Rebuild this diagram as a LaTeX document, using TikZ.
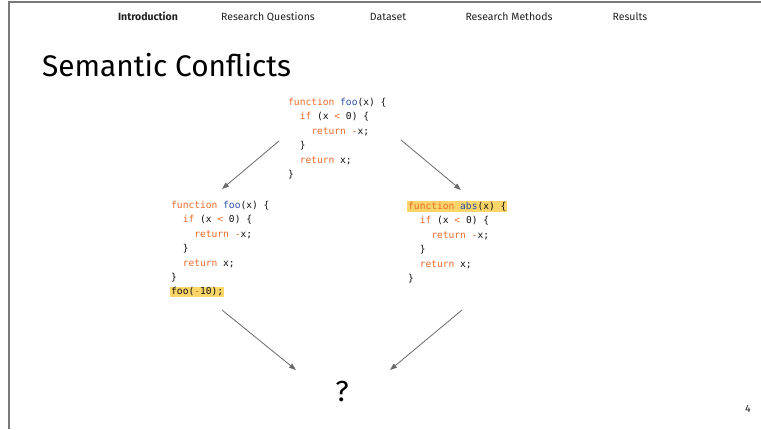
\documentclass[tikz,border=0pt]{standalone}
\usepackage{fontspec}
\setmainfont{Fira Sans}
\newfontfamily\codefont{DejaVu Sans Mono}
\usetikzlibrary{arrows.meta}
\definecolor{kwc}{HTML}{EA6A28}
\definecolor{fnc}{HTML}{2F4FA8}
\definecolor{hlc}{HTML}{FAD56A}
\definecolor{framec}{HTML}{7A7A7A}
\definecolor{arrowc}{HTML}{6A6A6A}
\definecolor{navc}{HTML}{222222}
\definecolor{codec}{HTML}{111111}
\newcommand{\kw}[1]{\textcolor{kwc}{#1}}
\newcommand{\fn}[1]{\textcolor{fnc}{#1}}
\newcommand{\hl}[1]{\hspace*{-1pt}{\fboxsep=1pt\colorbox{hlc}{#1}}}
\tikzset{
  codeblock/.style={anchor=north west, inner sep=0pt, align=left, text=codec,
    font=\codefont\fontsize{9.6}{14.4}\selectfont},
  navitem/.style={anchor=base, inner sep=0pt, text=navc, font=\fontsize{10.5}{12}\selectfont},
  flowarrow/.style={draw=arrowc, line width=0.8pt, -{Triangle[length=7pt,width=5pt]}},
  frameline/.style={draw=framec, line width=2pt}
}
\begin{document}
\begin{tikzpicture}[x=1pt,y=-1pt]
\useasboundingbox (0,0) rectangle (761,429);
\fill[white] (0,0) rectangle (761,429);
\coordinate (fb) at (9,429);
\coordinate (fc) at (9,2);
\coordinate (fr) at (761,2);
\draw[frameline] (fb) -- (fc) -- (fr);
% navigation
\node[navitem, font=\bfseries\fontsize{10.5}{12}\selectfont] (nav1) at (148,20) {Introduction};
\node[navitem] (nav2) at (268,20) {Research Questions};
\node[navitem] (nav3) at (388,20) {Dataset};
\node[navitem] (nav4) at (509,20) {Research Methods};
\node[navitem] (nav5) at (630,20) {Results};
% title
\node[anchor=base west, inner sep=0pt, font=\fontsize{29.8}{34}\selectfont] (title) at (42,76) {Semantic Conflicts};
% code blocks
\node[codeblock] (top) at (288,98) {%
\kw{function} \fn{foo}(x) \{\\
\ \ \kw{if} (x \kw{<} 0) \{\\
\ \ \ \ \kw{return} \kw{-}x;\\
\ \ \}\\
\ \ \kw{return} x;\\
\}};
\node[codeblock] (left) at (171,201) {%
\kw{function} \fn{foo}(x) \{\\
\ \ \kw{if} (x \kw{<} 0) \{\\
\ \ \ \ \kw{return} \kw{-}x;\\
\ \ \}\\
\ \ \kw{return} x;\\
\}\\
\hl{foo(\kw{-}10);}};
\node[codeblock] (right) at (408,201) {%
\hl{\kw{function} \fn{abs}(x) \{}\\
\ \ \kw{if} (x \kw{<} 0) \{\\
\ \ \ \ \kw{return} \kw{-}x;\\
\ \ \}\\
\ \ \kw{return} x;\\
\}};
% question mark
\node[anchor=base, inner sep=0pt, font=\fontsize{29}{32}\selectfont] (q) at (342,401) {?};
% page number
\node[anchor=base, inner sep=0pt, text=navc, font=\fontsize{10.5}{12}\selectfont] (page) at (748,412) {4};
% arrows
\coordinate (a1s) at (279,141); \coordinate (a1e) at (222,189);
\coordinate (a2s) at (401,140); \coordinate (a2e) at (461,190);
\coordinate (a3s) at (222,310); \coordinate (a3e) at (296,370);
\coordinate (a4s) at (462,310); \coordinate (a4e) at (390,370);
\draw[flowarrow] (a1s) -- (a1e);
\draw[flowarrow] (a2s) -- (a2e);
\draw[flowarrow] (a3s) -- (a3e);
\draw[flowarrow] (a4s) -- (a4e);
\end{tikzpicture}
\end{document}
